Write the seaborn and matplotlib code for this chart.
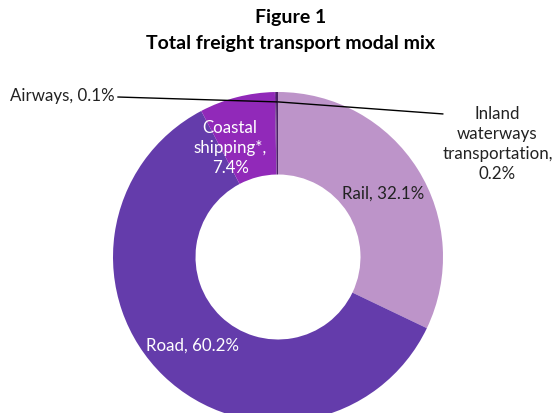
import matplotlib
matplotlib.use("Agg")
import matplotlib.pyplot as plt
import seaborn as sns

# freight modal share (%), clockwise from 12 o'clock
modes = ['Rail', 'Road', 'Coastal shipping*', 'Airways', 'Inland waterways transportation']
shares = [32.1, 60.2, 7.4, 0.1, 0.2]
label_text = ['Rail, 32.1%', 'Road, 60.2%', 'Coastal\nshipping*,\n7.4%',
              'Airways, 0.1%', 'Inland\nwaterways\ntransportation,\n0.2%']
colors = ['#bd94c9', '#643cab', '#9129b9', '#6a2f8c', '#4a2166']

sns.set_theme(style='white')
plt.rcParams['font.family'] = ['Lato', 'DejaVu Sans']

fig = plt.figure(figsize=(5.53, 4.14), dpi=100)
# donut centre at ~(278,258) px, outer radius ~165 px; bottom is cut by the figure edge
W, H = 553, 414
cx, cy, R = 278, 258, 165
ax = fig.add_axes([(cx - R) / W, (H - cy - R) / H, 2 * R / W, 2 * R / H])
ax.pie(shares, colors=sns.color_palette(colors), startangle=90, counterclock=False,
       radius=1, wedgeprops=dict(width=0.5, linewidth=0))
ax.set_xlim(-1, 1)
ax.set_ylim(-1, 1)
ax.set_aspect('equal')
ax.axis('off')

fs = 12.2
ax.text(0.64, 0.39, label_text[0], ha='center', va='center', fontsize=fs, color='#222222')
ax.text(-0.52, -0.53, label_text[1], ha='center', va='center', fontsize=fs, color='white')
ax.text(-0.29, 0.665, label_text[2], ha='center', va='center', fontsize=fs,
        color='white', linespacing=1.3)
ax.annotate(label_text[3], xy=(-0.006, 0.94), xytext=(-1.625, 0.98),
            ha='left', va='center', fontsize=fs, color='#222222', annotation_clip=False,
            arrowprops=dict(arrowstyle='-', color='black', lw=1, shrinkA=0, shrinkB=0))
ax.annotate(label_text[4], xy=(0.0, 0.94), xytext=(1.33, 0.69),
            ha='center', va='center', fontsize=fs, color='#222222', annotation_clip=False,
            linespacing=1.3)
ax.plot([0.0, 1.0], [0.94, 0.867], color='black', lw=1, clip_on=False)

fig.text(0.525, 1 - 18 / H, 'Figure 1', ha='center', va='center', fontsize=14,
         fontweight='bold', color='black')
fig.text(0.525, 1 - 43 / H, 'Total freight transport modal mix', ha='center', va='center',
         fontsize=14, fontweight='bold', color='black')

fig.savefig('out.png', dpi=100)
